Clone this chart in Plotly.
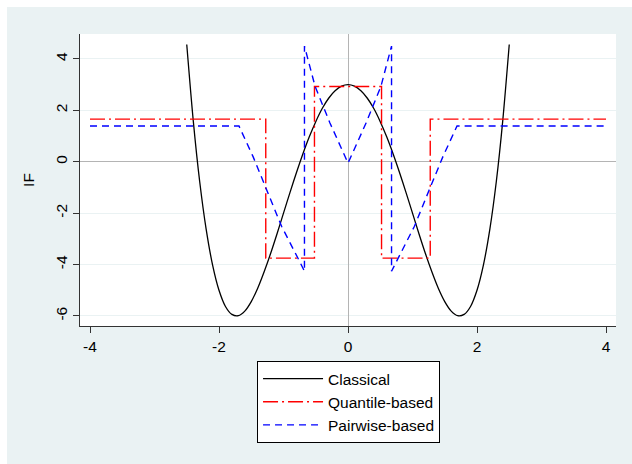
import plotly.graph_objects as go

# Classical IF
classical_x = [-2.5, -2.4, -2.3, -2.2, -2.1, -2.0, -1.9, -1.8, -1.7, -1.6, -1.5, -1.4, -1.3, -1.2, -1.1,
               -1.0, -0.9, -0.8, -0.7, -0.6, -0.5, -0.4, -0.3, -0.2, -0.1, 0.0,
               0.1, 0.2, 0.3, 0.4, 0.5, 0.6, 0.7, 0.8, 0.9, 1.0, 1.1, 1.2, 1.3, 1.4, 1.5,
               1.6, 1.7, 1.8, 1.9, 2.0, 2.1, 2.2, 2.3, 2.4, 2.5]
classical_y = [4.56, 1.62, -0.76, -2.61, -4.01, -5.00, -5.63, -5.94, -5.99, -5.81, -5.44, -4.92, -4.28, -3.57, -2.80,
               -2.00, -1.20, -0.43, 0.30, 0.97, 1.56, 2.07, 2.47, 2.76, 2.94, 3.00,
               2.94, 2.76, 2.47, 2.07, 1.56, 0.97, 0.30, -0.43, -1.20, -2.00, -2.80, -3.57, -4.28, -4.92, -5.44,
               -5.81, -5.99, -5.94, -5.63, -5.00, -4.01, -2.61, -0.76, 1.62, 4.56]

# Quantile-based IF (step function)
quantile_x = [-4.0, -1.275, -0.52, 0.52, 1.275, 4.0]
quantile_y = [1.66, -3.75, 2.93, -3.75, 1.66, 1.66]

# Pairwise-based IF
pairwise_x = [-4.0, -1.69, -1.47, -1.26, -1.03, -0.74, -0.675, -0.675, -0.51, -0.28, -0.12, 0.0,
              0.12, 0.28, 0.51, 0.675, 0.675, 0.74, 1.03, 1.26, 1.47, 1.69, 4.0]
pairwise_y = [1.39, 1.39, 0.19, -1.09, -2.51, -3.93, -4.26, 4.50, 2.93, 1.51, 0.61, -0.05,
              0.61, 1.51, 2.93, 4.50, -4.26, -3.93, -2.51, -1.09, 0.19, 1.39, 1.39]

x_ticks = [-4, -2, 0, 2, 4]
x_ticktext = ["-4", "-2", "0", "2", "4"]
y_ticks = [-6, -4, -2, 0, 2, 4]
y_ticktext = ["-6", "-4", "-2", "0", "2", "4"]

BG = "#eaf2f3"
FONT = "Liberation Sans, Arial, sans-serif"

fig = go.Figure()
fig.add_trace(go.Scatter(x=classical_x, y=classical_y, mode="lines", name="Classical",
                         line=dict(color="black", width=1.3, shape="spline", smoothing=0.8)))
fig.add_trace(go.Scatter(x=quantile_x, y=quantile_y, mode="lines", name="Quantile-based",
                         line=dict(color="#ff0000", width=1.4, dash="15px,4px,2px,4px", shape="hv")))
fig.add_trace(go.Scatter(x=pairwise_x, y=pairwise_y, mode="lines", name="Pairwise-based",
                         line=dict(color="#0000ff", width=1.4, dash="7px,5px")))

fig.update_layout(
    width=632, height=464,
    margin=dict(l=80, r=16, t=34, b=138, pad=0),
    paper_bgcolor=BG, plot_bgcolor="white",
    font=dict(family=FONT, size=15.5, color="black"),
    showlegend=True,
    legend=dict(x=0.501, y=-0.12, xanchor="center", yanchor="top",
                bgcolor="white", bordercolor="black", borderwidth=1,
                font=dict(size=15.5), itemwidth=60),
    xaxis=dict(range=[-4.155, 4.155], tickvals=x_ticks, ticktext=x_ticktext,
               ticks="outside", ticklen=6,
               tickcolor="#333", showline=True, linecolor="#333", linewidth=1,
               showgrid=False, zeroline=True, zerolinecolor="#b4b4b4", zerolinewidth=1.2),
    yaxis=dict(range=[-6.39, 4.97], tickvals=y_ticks, ticktext=y_ticktext,
               ticks="outside", ticklen=6,
               tickcolor="#333", showline=True, linecolor="#333", linewidth=1, tickangle=-90,
               showgrid=True, gridcolor=BG, gridwidth=1.2,
               zeroline=True, zerolinecolor="#b4b4b4", zerolinewidth=1.2,
               title=dict(text="IF", standoff=14, font=dict(size=15.5))),
    shapes=[
        dict(type="rect", xref="paper", yref="paper", x0=-0.16, x1=-0.1362, y0=-0.5, y1=1.2,
             fillcolor="white", line=dict(width=0), layer="below"),
        dict(type="rect", xref="paper", yref="paper", x0=-0.16, x1=1.05, y0=1.0925, y1=1.2,
             fillcolor="white", line=dict(width=0), layer="below"),
    ],
)

fig.write_html("out.html")
